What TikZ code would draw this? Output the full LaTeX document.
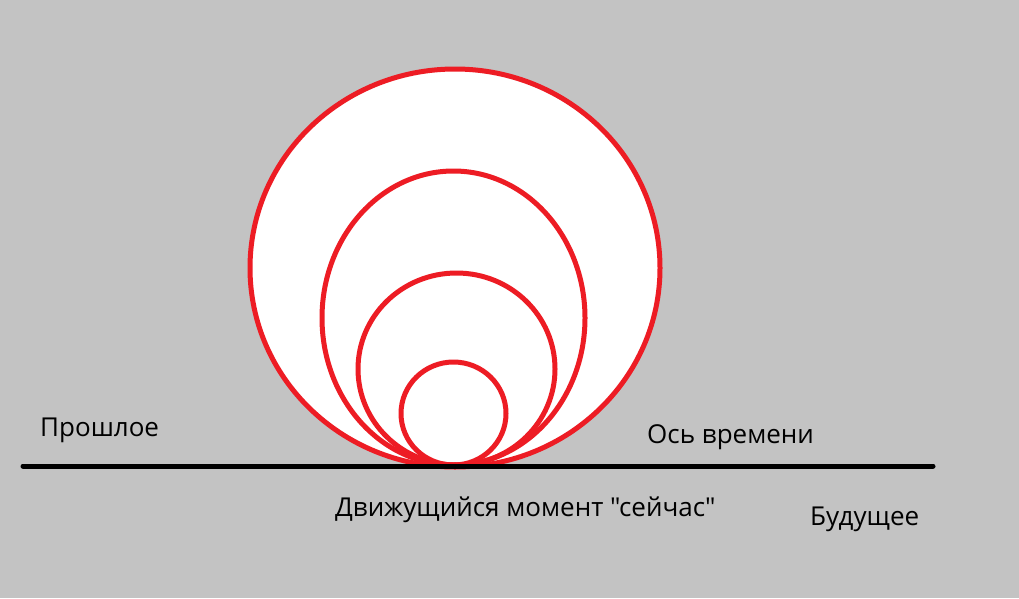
\documentclass[tikz,border=0pt]{standalone}
\usepackage{fontspec}
\setmainfont{Open Sans}[Ligatures=TeXOff]
\usetikzlibrary{positioning}
\definecolor{paintred}{HTML}{ED1C24}
\definecolor{paintgray}{HTML}{C3C3C3}
\tikzset{
  every picture/.style = {
    x = 1pt,
    y = -1pt,
  }
  ,
  moment/.style = {
    draw = paintred,
    line width = 5pt
  }
  , % the time axis
  axis/.style = {
    draw = black,
    line width = 5pt,
    line cap = round
  }
  , % labels on the picture
  label-time/.style = {
    anchor = base west,
    inner sep = 0pt,
    font = \fontsize{26}{30}\selectfont
  }
}
\begin{document}
\begin{tikzpicture}
\fill [paintgray] (0,0) rectangle (1019,598);
\useasboundingbox (0,0) rectangle (1019,598);

\coordinate (past) at (23,466);
\coordinate (future) at (933,466);
\coordinate (now) at (455,466);

\fill [white] (455,268) ellipse [x radius=205, y radius=199];
\draw [moment] (455,268) ellipse [x radius=205, y radius=199];
\draw [moment] (453.5,318) ellipse [x radius=131.5, y radius=147];
\draw [moment] (456.5,369) ellipse [x radius=98.5, y radius=96];
\draw [moment] (453.5,413.5) ellipse [x radius=52.5, y radius=51.5];

\draw [axis] (past) -- (future);

\node [label-time] (past-label) at (40,436) {Прошлое};
\node [label-time] (axis-label) at (647,443) {Ось времени};
\node [label-time] (now-label) at (335,516) {Движущийся момент "сейчас"};
\node [label-time] (future-label) at (810,525) {Будущее};
\end{tikzpicture}
\end{document}
